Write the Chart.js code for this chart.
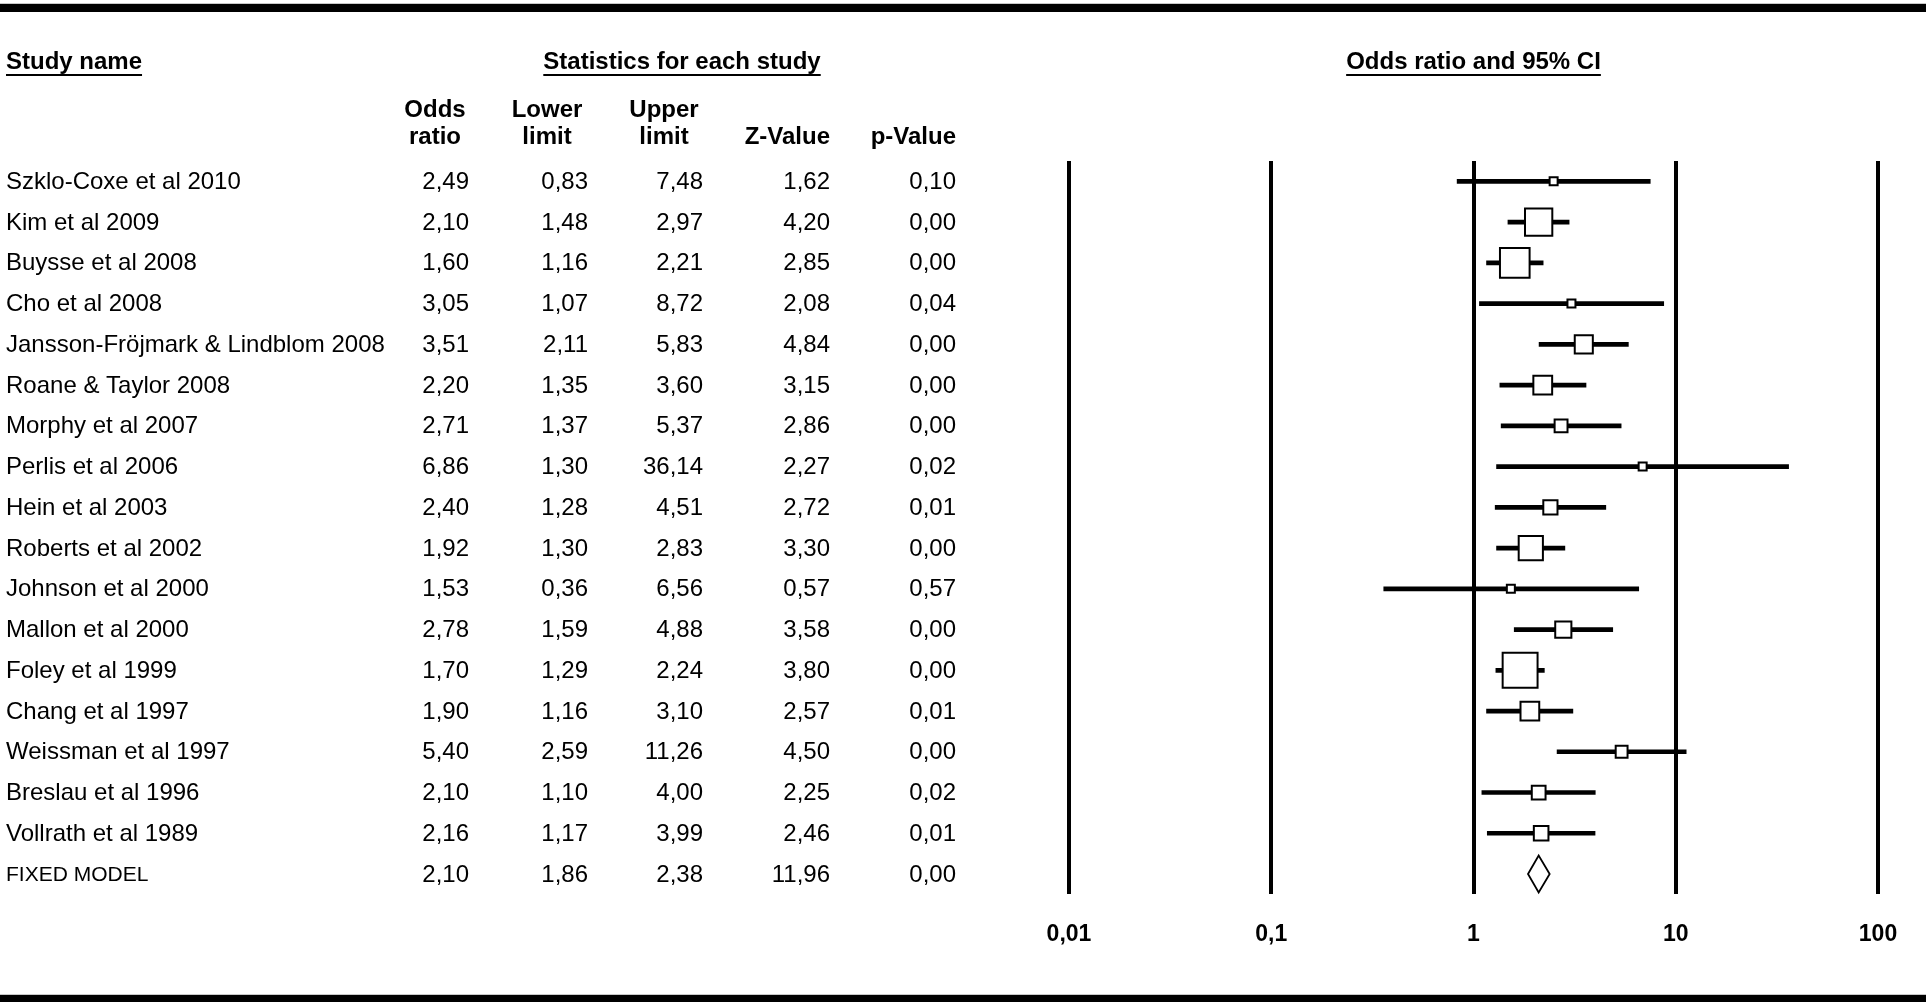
<!DOCTYPE html>
<html>
<head>
<meta charset="utf-8">
<title>Odds ratio and 95% CI</title>
<script src="https://cdn.jsdelivr.net/npm/chart.js@4.4.1/dist/chart.umd.min.js"></script>
<style>
  html, body { margin: 0; padding: 0; background: #fff; }
  #forest { display: block; }
</style>
</head>
<body>
<canvas id="forest" width="1930" height="1004"></canvas>
<script>
// study rows (last row is the pooled fixed model)
var studies = [
    "Szklo-Coxe et al 2010", "Kim et al 2009", "Buysse et al 2008", "Cho et al 2008",
    "Jansson-Fröjmark & Lindblom 2008", "Roane & Taylor 2008", "Morphy et al 2007",
    "Perlis et al 2006", "Hein et al 2003", "Roberts et al 2002", "Johnson et al 2000",
    "Mallon et al 2000", "Foley et al 1999", "Chang et al 1997", "Weissman et al 1997",
    "Breslau et al 1996", "Vollrath et al 1989", "FIXED MODEL"
];
var oddsRatio  = [2.49, 2.10, 1.60, 3.05, 3.51, 2.20, 2.71, 6.86, 2.40, 1.92, 1.53, 2.78, 1.70, 1.90, 5.40, 2.10, 2.16, 2.10];
var lowerLimit = [0.83, 1.48, 1.16, 1.07, 2.11, 1.35, 1.37, 1.30, 1.28, 1.30, 0.36, 1.59, 1.29, 1.16, 2.59, 1.10, 1.17, 1.86];
var upperLimit = [7.48, 2.97, 2.21, 8.72, 5.83, 3.60, 5.37, 36.14, 4.51, 2.83, 6.56, 4.88, 2.24, 3.10, 11.26, 4.00, 3.99, 2.38];
var zValue     = [1.62, 4.20, 2.85, 2.08, 4.84, 3.15, 2.86, 2.27, 2.72, 3.30, 0.57, 3.58, 3.80, 2.57, 4.50, 2.25, 2.46, 11.96];
var pValue     = [0.10, 0.00, 0.00, 0.04, 0.00, 0.00, 0.00, 0.02, 0.01, 0.00, 0.57, 0.00, 0.00, 0.01, 0.00, 0.02, 0.01, 0.00];
// relative study weights
var weight     = [3.2, 31.7, 37.0, 3.5, 14.9, 16.0, 8.2, 1.4, 9.7, 25.4, 1.8, 12.2, 50.4, 15.9, 7.1, 9.2, 10.2];

var axisTicks  = [0.01, 0.1, 1, 10, 100];
var axisLabels = ["0,01", "0,1", "1", "10", "100"];

var FONT = "'Liberation Sans', Arial, Helvetica, sans-serif";
var nStudies = weight.length;

function fmt(v) {
    return v.toFixed(2).replace(".", ",");
}

var ciBars = [];
var boxes = [];
for (var i = 0; i < studies.length; i++) {
    if (i < nStudies) {
        ciBars.push([lowerLimit[i], upperLimit[i]]);
        boxes.push({ x: oddsRatio[i], y: studies[i] });
    } else {
        ciBars.push(null);
    }
}

function boxRadius(ctx) {
    var w = weight[ctx.dataIndex];
    var side = Math.max(10, 5.2 * Math.sqrt(w)) - 2;
    return side / Math.SQRT2;
}

// table, headers, rules and the summary diamond
var tablePlugin = {
    id: "tablePlugin",
    beforeDraw: function(chart) {
        var c = chart.ctx;
        c.save();
        c.fillStyle = "#fff";
        c.fillRect(0, 0, chart.width, chart.height);
        c.restore();
    },
    afterDraw: function(chart) {
        var c = chart.ctx;
        var xs = chart.scales.x;
        var ys = chart.scales.y;
        c.save();

        // thick rules top & bottom
        c.fillStyle = "#c8c8c8";
        c.fillRect(0, 3, 1926, 1);
        c.fillRect(0, 994, 1926, 1);
        c.fillStyle = "#000";
        c.fillRect(0, 4, 1926, 8);
        c.fillRect(0, 995, 1926, 7);

        // section headers
        c.font = "bold 24px " + FONT;
        c.textBaseline = "alphabetic";
        var heads = [
            ["Study name", 6, "left"],
            ["Statistics for each study", 682, "center"],
            ["Odds ratio and 95% CI", xs.getPixelForValue(1), "center"]
        ];
        heads.forEach(function(h) {
            c.textAlign = h[2];
            c.fillText(h[0], h[1], 69);
            var w = c.measureText(h[0]).width;
            var x0 = h[2] == "left" ? h[1] : h[1] - w / 2;
            c.fillRect(x0, 74, w, 2);
        });

        // column headers
        c.textAlign = "center";
        c.fillText("Odds", 435, 117);
        c.fillText("ratio", 435, 144);
        c.fillText("Lower", 547, 117);
        c.fillText("limit", 547, 144);
        c.fillText("Upper", 664, 117);
        c.fillText("limit", 664, 144);
        c.textAlign = "right";
        c.fillText("Z-Value", 830, 144);
        c.fillText("p-Value", 956, 144);

        // rows
        var colRight = [469, 588, 703, 830, 956];
        c.textBaseline = "middle";
        for (var i = 0; i < studies.length; i++) {
            var y = ys.getPixelForValue(i) + 1;
            c.textAlign = "left";
            c.font = (i < nStudies ? "24px " : "21px ") + FONT;
            c.fillText(studies[i], 6, y);
            c.font = "24px " + FONT;
            c.textAlign = "right";
            var vals = [oddsRatio[i], lowerLimit[i], upperLimit[i], zValue[i], pValue[i]];
            for (var k = 0; k < vals.length; k++) {
                c.fillText(fmt(vals[k]), colRight[k], y);
            }
        }

        // diamond for the fixed model
        var last = studies.length - 1;
        var yc = ys.getPixelForValue(last);
        var xl = xs.getPixelForValue(lowerLimit[last]);
        var xm = xs.getPixelForValue(oddsRatio[last]);
        var xu = xs.getPixelForValue(upperLimit[last]);
        c.beginPath();
        c.moveTo(xl, yc);
        c.lineTo(xm, yc - 18.5);
        c.lineTo(xu, yc);
        c.lineTo(xm, yc + 18.5);
        c.closePath();
        c.fillStyle = "#fff";
        c.fill();
        c.lineWidth = 1.8;
        c.strokeStyle = "#000";
        c.stroke();

        c.restore();
    }
};

var forestChart = new Chart(document.getElementById("forest"), {
    type: "bar",
    data: {
        labels: studies,
        datasets: [
            {
                type: "scatter",
                label: "Odds ratio",
                data: boxes,
                pointStyle: "rect",
                pointRadius: boxRadius,
                pointHoverRadius: boxRadius,
                pointBackgroundColor: "#fff",
                pointBorderColor: "#000",
                pointBorderWidth: 2,
                showLine: false,
                order: 0
            },
            {
                type: "bar",
                label: "95% CI",
                data: ciBars,
                backgroundColor: "#000",
                borderWidth: 0,
                barThickness: 4,
                order: 1
            }
        ]
    },
    options: {
        indexAxis: "y",
        responsive: false,
        animation: false,
        events: [],
        devicePixelRatio: 1,
        layout: {
            padding: { left: 1069, right: 52, top: 161, bottom: 30 }
        },
        plugins: {
            legend: { display: false },
            tooltip: { enabled: false },
            title: { display: false }
        },
        scales: {
            x: {
                type: "logarithmic",
                position: "bottom",
                min: 0.01,
                max: 100,
                afterBuildTicks: function(scale) {
                    scale.ticks = axisTicks.map(function(v) { return { value: v }; });
                },
                ticks: {
                    autoSkip: false,
                    maxRotation: 0,
                    padding: 26,
                    color: "#000",
                    font: { family: FONT, size: 23, weight: "bold" },
                    callback: function(value) {
                        var idx = axisTicks.indexOf(value);
                        return idx >= 0 ? axisLabels[idx] : "";
                    }
                },
                grid: {
                    color: "#000",
                    lineWidth: 4,
                    drawTicks: false
                },
                border: { display: false }
            },
            y: {
                type: "category",
                display: false,
                offset: true,
                grid: { display: false }
            }
        }
    },
    plugins: [tablePlugin]
});
</script>
</body>
</html>
